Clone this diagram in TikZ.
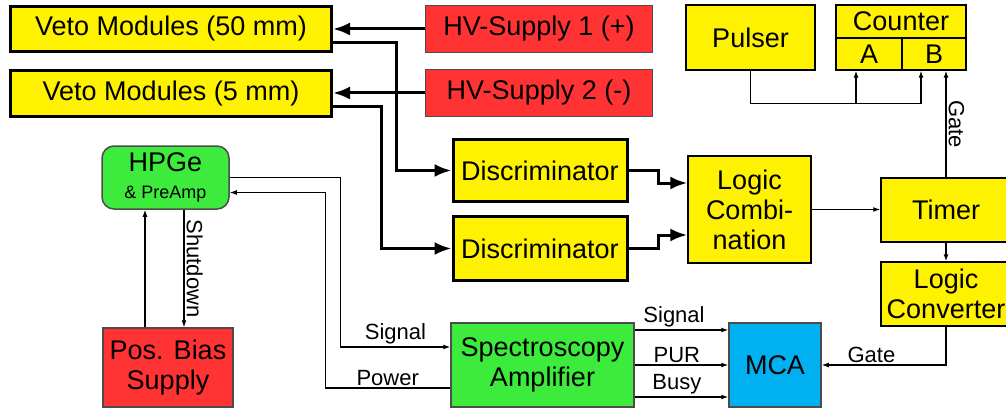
\documentclass[tikz,border=0pt]{standalone}
\usepackage{fontspec}
\setmainfont{Liberation Sans}
\usetikzlibrary{arrows.meta}
\definecolor{hvred}{RGB}{255,51,51}
\definecolor{boxgreen}{RGB}{60,235,60}
\definecolor{mcablue}{RGB}{0,176,240}
\newcommand{\boxfont}{\fontsize{27}{30}\selectfont}
\newcommand{\lblfont}{\fontsize{22}{24}\selectfont}
\newcommand{\ampfont}{\fontsize{18}{20}\selectfont}
\tikzset{
  box/.style={draw, rectangle, inner sep=0pt, align=center, font=\boxfont},
  vetobox/.style={box, fill=yellow, line width=3pt},
  ylwbox/.style={box, fill=yellow, line width=1.5pt},
  redbox/.style={box, fill=hvred, draw=black!70, line width=1.5pt},
  grnbox/.style={box, fill=boxgreen, draw=black!70, line width=1.5pt},
  thickarr/.style={-{Latex[length=17pt,width=13pt]}, line width=3pt},
  thinarr/.style={-{Latex[length=7pt,width=5pt]}, line width=1.2pt},
  lbl/.style={font=\lblfont, inner sep=2pt},
}
\begin{document}
\begin{tikzpicture}[x=1pt, y=-1pt]
    \useasboundingbox (0,0) rectangle (1006,409);
    % 1. Veto modules and HV supplies
    \node[vetobox, minimum width=321, minimum height=45] (veto50) at (171,29) {Veto Modules (50 mm)};
    \node[vetobox, minimum width=321, minimum height=46] (veto5) at (171,93.5) {Veto Modules (5 mm)};
    \node[redbox, minimum width=227, minimum height=47] (hv1) at (539,29) {HV-Supply 1 (+)};
    \node[redbox, minimum width=227, minimum height=47] (hv2) at (539,93) {HV-Supply 2 (-)};

    % 2. Discriminators, logic, timer
    \node[vetobox, minimum width=174, minimum height=62] (disc1) at (540,170.5) {Discriminator};
    \node[vetobox, minimum width=174, minimum height=64] (disc2) at (540,248.5) {Discriminator};
    \node[ylwbox, minimum width=123, minimum height=107] (logic) at (749.5,209.5) {Logic\\Combi-\\nation};
    \node[ylwbox, minimum width=130, minimum height=64] (timer) at (946,210) {Timer};
    \node[ylwbox, minimum width=130, minimum height=64] (lconv) at (946,294) {Logic\\Converter};

    % 3. Pulser and counter
    \node[ylwbox, minimum width=129, minimum height=65] (pulser) at (750.5,37.5) {Pulser};
    \node[ylwbox, minimum width=130, minimum height=33] (counter) at (901,21.5) {Counter};
    \node[ylwbox, minimum width=66, minimum height=32] (cntA) at (869,54) {A};
    \node[ylwbox, minimum width=64, minimum height=32] (cntB) at (934,54) {B};

    % 4. Germanium detector chain
    \node[grnbox, rounded corners=12pt, minimum width=127, minimum height=63] (hpge) at (165.5,177.5)
        {HPGe\\[-3pt]{\ampfont\& PreAmp}};
    \node[redbox, minimum width=130, minimum height=79] (bias) at (168,367.5) {Pos. Bias\\Supply};
    \node[grnbox, minimum width=183, minimum height=84] (spec) at (542.5,365) {Spectroscopy\\Amplifier};
    \node[box, fill=mcablue, draw=black!70, line width=1.5pt, minimum width=92, minimum height=84] (mca) at (775,365) {MCA};

    % 5. Thick veto connections
    \draw[thickarr] (hv1.west) -- (hv1.west -| veto50.east);
    \draw[thickarr] (hv2.west) -- (hv2.west -| veto5.east);
    \draw[thickarr] ([yshift=-14pt]veto50.east) -- ++(63,0) |- (disc1.west);
    \draw[thickarr] ([yshift=-13.5pt]veto5.east) -- ++(48,0) |- (disc2.west);
    \draw[thickarr] (disc1.east) -- ++(30,0) |- ([yshift=26.5pt]logic.west);
    \draw[thickarr] (disc2.east) -- ++(30,0) |- ([yshift=-25.5pt]logic.west);

    % 6. Thin signal connections
    \draw[thinarr] (logic.east) -- (logic.east -| timer.west);
    \draw[thinarr] (timer.north) -- (timer.north |- cntB.south)
        node[lbl, midway, anchor=south, rotate=-90] {Gate};
    \draw[thinarr] (timer.south) -- (lconv.north);
    \draw[thinarr] (lconv.south) |- (mca.east) node[lbl, pos=0.8, above] {Gate};
    \draw[thinarr] (pulser.south) -- ++(0,33) coordinate (pj) -| ([xshift=-13pt]cntB.south);
    \draw[thinarr] ([xshift=-13pt]cntA.south |- pj) -- ([xshift=-13pt]cntA.south);

    \draw[thinarr] ([yshift=35pt]spec.east) -- ([yshift=35pt]spec.east -| mca.west)
        node[lbl, pos=0.42, above] {Signal};
    \draw[thinarr] (spec.east) -- (mca.west) node[lbl, pos=0.45, above] {PUR};
    \draw[thinarr] ([yshift=-32pt]spec.east) -- ([yshift=-32pt]spec.east -| mca.west)
        node[lbl, pos=0.45, above] {Busy};

    \draw[thinarr] (hpge.east) -- ++(111,0) |- ([yshift=18pt]spec.west)
        node[lbl, pos=0.75, above] {Signal};
    \draw[thinarr] ([yshift=-23pt]spec.west) -- ++(-125,0) node[lbl, midway, above] {Power}
        |- ([yshift=-15pt]hpge.east);
    \draw[thinarr] ([xshift=-23pt]bias.north) -- ([xshift=-23pt]bias.north |- hpge.south);
    \draw[thinarr] ([xshift=18.5pt]hpge.south) -- ([xshift=18.5pt]hpge.south |- bias.north)
        node[lbl, midway, anchor=south, rotate=-90] {Shutdown};
\end{tikzpicture}
\end{document}
